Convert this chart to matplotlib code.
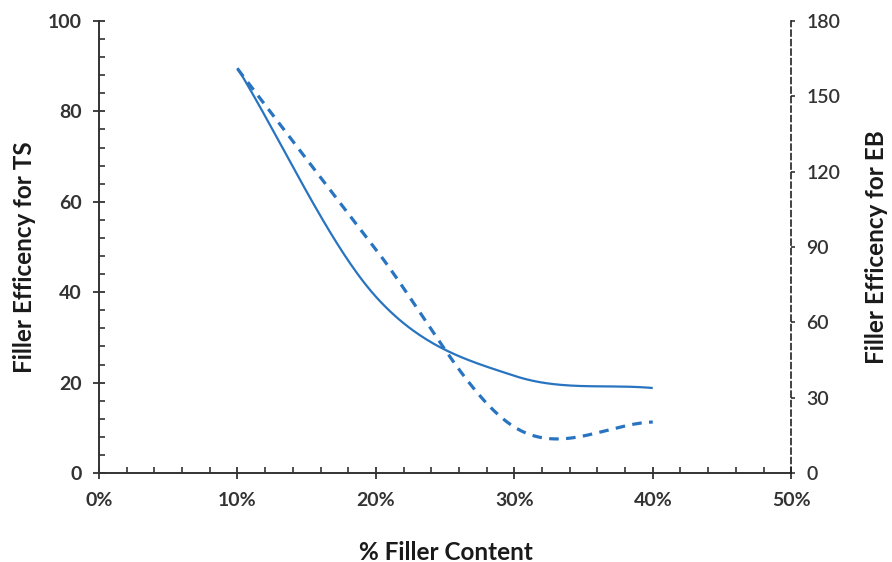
import numpy as np
import matplotlib
matplotlib.use("Agg")
import matplotlib.pyplot as plt
from matplotlib.ticker import MultipleLocator, FuncFormatter

# Filler content (fraction) and filler efficiency values
filler = [0.10, 0.20, 0.30, 0.40]
eff_ts = [89.6, 39.0, 21.5, 18.8]
eff_eb = [161.0, 89.0, 18.3, 20.3]

x_ticks = [0.0, 0.1, 0.2, 0.3, 0.4, 0.5]
ts_ticks = [0, 20, 40, 60, 80, 100]
eb_ticks = [0, 30, 60, 90, 120, 150, 180]

BLUE = "#2874C0"
INK = "#333333"
FONT = "Lato"


def smooth(xs, ys, n=60):
    """Catmull-Rom style smoothing through the given points."""
    xs = np.asarray(xs, float)
    ys = np.asarray(ys, float)
    k = len(xs)
    m = np.zeros(k)
    for i in range(k):
        if i == 0:
            m[i] = ys[1] - ys[0]
        elif i == k - 1:
            m[i] = ys[-1] - ys[-2]
        else:
            m[i] = (ys[i + 1] - ys[i - 1]) / 2
    out_x, out_y = [], []
    for i in range(k - 1):
        t = np.linspace(0, 1, n, endpoint=(i == k - 2))
        h00 = 2 * t**3 - 3 * t**2 + 1
        h10 = t**3 - 2 * t**2 + t
        h01 = -2 * t**3 + 3 * t**2
        h11 = t**3 - t**2
        out_y.append(h00 * ys[i] + h10 * m[i] + h01 * ys[i + 1] + h11 * m[i + 1])
        out_x.append(xs[i] + t * (xs[i + 1] - xs[i]))
    return np.concatenate(out_x), np.concatenate(out_y)


fig = plt.figure(figsize=(8.92, 5.62), dpi=100)
ax = fig.add_axes([0.111, 0.1584, 0.776, 0.8042])
ax2 = ax.twinx()

sx, sy = smooth(filler, eff_ts)
ax.plot(sx, sy, color=BLUE, lw=1.6, solid_capstyle="butt", zorder=3)
ex, ey = smooth(filler, eff_eb)
ax2.plot(ex, ey, color=BLUE, lw=2.3, dashes=(3.0, 2.3), zorder=3)

ax.set_xlim(0, 0.5)
ax.set_ylim(0, 100)
ax2.set_ylim(0, 180)

ax.set_xticks(x_ticks)
ax.xaxis.set_major_formatter(FuncFormatter(lambda v, p: f"{v*100:.0f}%"))
ax.xaxis.set_minor_locator(MultipleLocator(0.02))
ax.set_yticks(ts_ticks)
ax.yaxis.set_minor_locator(MultipleLocator(4))
ax2.set_yticks(eb_ticks)

for s in ["top", "right"]:
    ax.spines[s].set_visible(False)
for s in ["top", "left", "bottom"]:
    ax2.spines[s].set_visible(False)
for s in ["left", "bottom"]:
    ax.spines[s].set_color(INK)
    ax.spines[s].set_linewidth(1.4)
ax2.spines["right"].set_color("#222222")
ax2.spines["right"].set_linewidth(1.2)
ax2.spines["right"].set_linestyle((0, (3.5, 2.2)))

ax.tick_params(axis="both", which="major", direction="inout", length=9,
               width=1.3, color=INK, labelsize=14, labelcolor=INK)
ax.tick_params(axis="both", which="minor", direction="in", length=4.5,
               width=1.2, color=INK)
ax.tick_params(axis="x", which="major", pad=9)
ax.tick_params(axis="y", which="major", pad=8)
ax2.tick_params(axis="y", which="major", direction="out", length=3,
                width=1.1, color="#222222", labelsize=14, labelcolor=INK, pad=8)

for lab in ax.get_xticklabels() + ax.get_yticklabels():
    lab.set_fontfamily(FONT)
    lab.set_fontweight("bold")
for lab in ax2.get_yticklabels():
    lab.set_fontfamily(FONT)
    lab.set_fontweight("semibold")

label_kw = dict(fontsize=17.5, fontweight="bold", color="#1A1A1A", family=FONT)
fig.text(0.5, 1 - 552 / 562, "% Filler Content", ha="center", va="center", **label_kw)
fig.text(25 / 892, 1 - 257 / 562, "Filler Efficency for TS", rotation=90,
         ha="center", va="center", **label_kw)
fig.text(877 / 892, 1 - 247 / 562, "Filler Efficency for EB", rotation=90,
         ha="center", va="center", **label_kw)

fig.savefig("out.png", dpi=100)
